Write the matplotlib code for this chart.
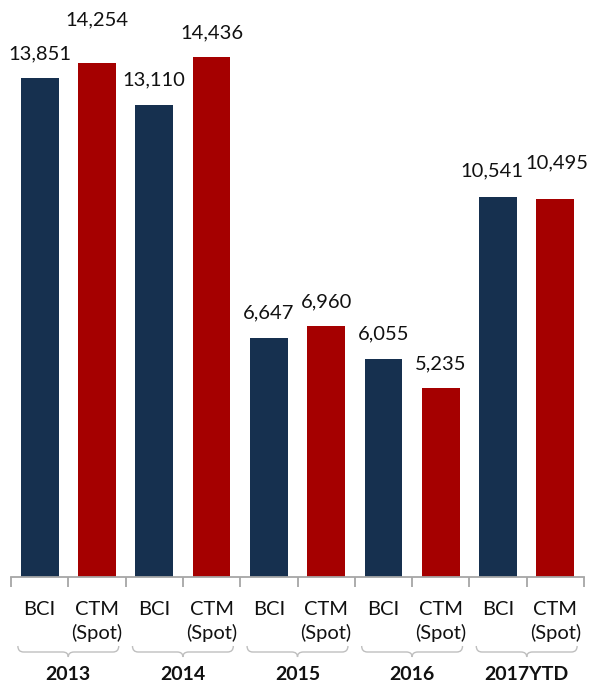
import numpy as np
import matplotlib.pyplot as plt
from matplotlib.path import Path
from matplotlib.patches import PathPatch
import matplotlib.transforms as mtransforms

plt.rcParams['font.family'] = ['Lato', 'DejaVu Sans']

years = ['2013', '2014', '2015', '2016', '2017YTD']
series = ['BCI', 'CTM\n(Spot)']
bci = [13851, 13110, 6647, 6055, 10541]
ctm = [14254, 14436, 6960, 5235, 10495]
labels = ['13,851', '14,254', '13,110', '14,436', '6,647', '6,960',
          '6,055', '5,235', '10,541', '10,495']
# label centre offsets from bar top, in pixels (dx, dy)
label_off = [(0, 24), (0, 44), (0, 25), (0, 24), (0, 25), (0, 24),
             (0, 25), (0, 25), (-6, 26), (2, 36)]

navy = '#16304f'
red = '#a50000'

values = []
colors = []
ticklabels = []
for b, c in zip(bci, ctm):
    values += [b, c]
    colors += [navy, red]
    ticklabels += series

x = np.arange(len(values))

fig = plt.figure(figsize=(5.92, 6.86), dpi=100)
ax = fig.add_axes([11 / 592, (686 - 577) / 686, (584 - 11) / 592, 577 / 686])
ax.bar(x, values, width=0.66, color=colors)
ax.set_xlim(-0.5, len(values) - 0.5)
ax.set_ylim(0, 16016)

for xi, v, lab, (dx, dy) in zip(x, values, labels, label_off):
    ax.annotate(lab, (xi, v), xytext=(dx * 0.72, dy * 0.72), textcoords='offset points',
                ha='center', va='center', fontsize=14.5, color='#111111')

for s in ['top', 'right', 'left']:
    ax.spines[s].set_visible(False)
ax.spines['bottom'].set_color('#a6a6a6')
ax.spines['bottom'].set_linewidth(1.3)
ax.set_yticks([])
ax.set_xticks(x)
ax.set_xticklabels(ticklabels, fontsize=14.5, color='#111111', va='top', linespacing=1.45)
ax.tick_params(axis='x', which='major', length=0, pad=17)
ax.set_xticks(np.arange(-0.5, len(values), 1), minor=True)
ax.tick_params(axis='x', which='minor', length=7, width=1.3, color='#a6a6a6')

# braces and year labels
trans = mtransforms.blended_transform_factory(ax.transData, fig.transFigure)
ytop = 1 - 646 / 686
ymid = 1 - 652 / 686
ybot = 1 - 657 / 686
for i, yr in enumerate(years):
    l = 2 * i - 0.5 + 0.12
    r = 2 * i + 1.5 - 0.12
    c = 2 * i + 0.5
    verts = [(l, ytop), (l, ymid), (l + 0.1, ymid),
             (c - 0.1, ymid), (c, ymid), (c, ybot),
             (c, ymid), (c + 0.1, ymid),
             (r - 0.1, ymid), (r, ymid), (r, ytop)]
    codes = [Path.MOVETO, Path.CURVE3, Path.CURVE3,
             Path.LINETO, Path.CURVE3, Path.CURVE3,
             Path.CURVE3, Path.CURVE3,
             Path.LINETO, Path.CURVE3, Path.CURVE3]
    ax.add_patch(PathPatch(Path(verts, codes), transform=trans, fill=False,
                           edgecolor='#bfbfbf', linewidth=1.0, clip_on=False))
    ax.text(c, 1 - 675 / 686, yr, transform=trans, ha='center', va='center',
            fontsize=14, fontweight='bold', color='#111111')

fig.savefig('out.png', dpi=100)
